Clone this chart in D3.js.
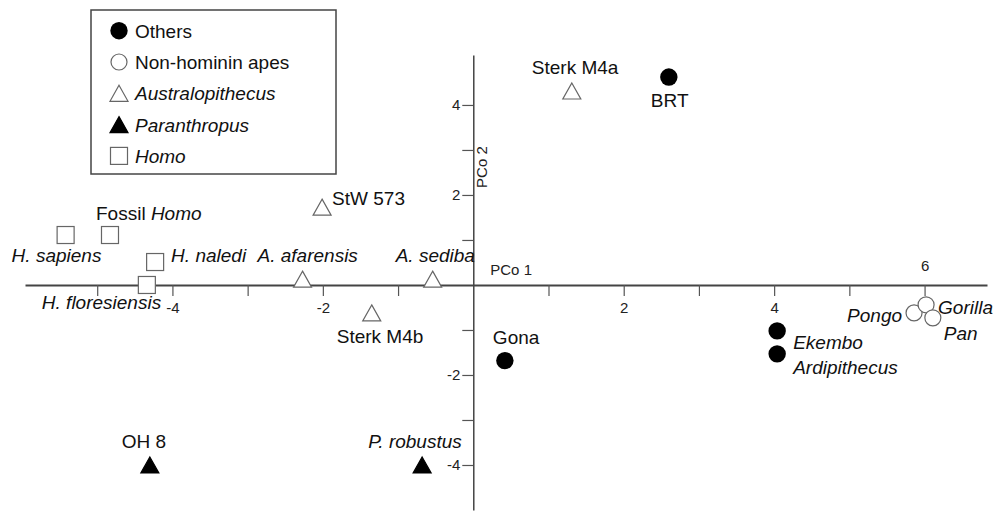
<!DOCTYPE html>
<html>
<head>
<meta charset="utf-8">
<script src="https://cdn.jsdelivr.net/npm/d3@7"></script>
<style>
  body { margin: 0; background: #fff; }
  svg { display: block; font-family: "Liberation Sans", Arial, sans-serif; }
</style>
</head>
<body>
<div id="chart"></div>
<script>
// specimens and their group
const names = ['H. sapiens', 'Fossil Homo', 'H. naledi', 'H. floresiensis', 'StW 573', 'A. afarensis',
  'A. sediba', 'Sterk M4b', 'Sterk M4a', 'BRT', 'Gona', 'Ekembo', 'Ardipithecus',
  'Pongo', 'Gorilla', 'Pan', 'OH 8', 'P. robustus'];
const groups = ['Homo', 'Homo', 'Homo', 'Homo', 'Australopithecus', 'Australopithecus',
  'Australopithecus', 'Australopithecus', 'Australopithecus', 'Others', 'Others', 'Others', 'Others',
  'Apes', 'Apes', 'Apes', 'Paranthropus', 'Paranthropus'];
const pco1 = [-5.42, -4.83, -4.23, -4.34, -2.01, -2.27, -0.54, -1.35, 1.31, 2.60, 0.42, 4.04, 4.04,
  5.86, 6.02, 6.11, -4.30, -0.68];
const pco2 = [1.11, 1.11, 0.51, 0.0, 1.73, 0.13, 0.13, -0.62, 4.31, 4.62, -1.68, -1.02, -1.53,
  -0.62, -0.44, -0.73, -4.0, -4.0];

// legend
const legendKeys = ['Others', 'Apes', 'Australopithecus', 'Paranthropus', 'Homo'];
const legendLabels = ['Others', 'Non-hominin apes', 'Australopithecus', 'Paranthropus', 'Homo'];
const legendItalic = [false, false, true, true, true];

// ticks
const xTicks = [-5, -4, -3, -2, -1, 1, 2, 3, 4, 5, 6];
const xTickLabels = [-4, -2, 2, 4, 6];
const yTicks = [-4, -3, -2, -1, 1, 2, 3, 4];
const yTickLabels = [-4, -2, 2, 4];

// label placement (pixel offsets from the marker)
const labelPos = {
  'H. sapiens': [-54, 27, 'start'], 'Fossil Homo': [-14, -15, 'start'], 'H. naledi': [16, 0, 'start'],
  'H. floresiensis': [-105, 24, 'start'], 'StW 573': [10, -2, 'start'], 'A. afarensis': [-45, -17, 'start'],
  'A. sediba': [-37, -17, 'start'], 'Sterk M4b': [-35, 30, 'start'], 'Sterk M4a': [-40, -17, 'start'],
  'BRT': [-18, 30, 'start'], 'Gona': [-12, -17, 'start'], 'Ekembo': [16, 18, 'start'],
  'Ardipithecus': [16, 20, 'start'], 'Pongo': [-12, 9, 'end'], 'Gorilla': [12, 9, 'start'],
  'Pan': [11, 22, 'start'], 'OH 8': [-28, -17, 'start'], 'P. robustus': [-54, -17, 'start']
};
const italicNames = ['H. sapiens', 'H. naledi', 'H. floresiensis', 'A. afarensis', 'A. sediba',
  'Ekembo', 'Ardipithecus', 'Pongo', 'Gorilla', 'Pan', 'P. robustus'];

const width = 995, height = 512;
const svg = d3.select('#chart').append('svg')
  .attr('width', width).attr('height', height);

const x = d3.scaleLinear().domain([-5.96, 6.83]).range([25, 987]);
const y = d3.scaleLinear().domain([-5.0, 5.11]).range([510, 55]);

const axisColor = '#444';

// x axis
const xAxis = svg.append('g')
  .attr('transform', `translate(0,${y(0)})`)
  .call(d3.axisBottom(x).tickValues(xTicks).tickSize(11).tickSizeOuter(0)
    .tickFormat(d => xTickLabels.includes(d) ? d : ''))
  .attr('font-family', null).attr('font-size', null);
xAxis.select('.domain').attr('stroke', axisColor).attr('stroke-width', 2);
xAxis.selectAll('.tick line').attr('stroke', '#555').attr('stroke-width', 1.2);
xAxis.selectAll('.tick text').attr('fill', '#222').style('font-size', '15px').attr('y', 17);
xAxis.selectAll('.tick').filter(d => d === 6).select('text').attr('y', -25);

// y axis
const yAxis = svg.append('g')
  .attr('transform', `translate(${x(0)},0)`)
  .call(d3.axisLeft(y).tickValues(yTicks).tickSize(11).tickSizeOuter(0)
    .tickFormat(d => yTickLabels.includes(d) ? d : ''))
  .attr('font-family', null).attr('font-size', null);
yAxis.select('.domain').attr('stroke', axisColor).attr('stroke-width', 1.5);
yAxis.selectAll('.tick line').attr('stroke', '#555').attr('stroke-width', 1.2);
yAxis.selectAll('.tick text').attr('fill', '#222').style('font-size', '15px').attr('x', -13);

// axis titles
svg.append('text')
  .attr('x', x(0) + 17).attr('y', y(0) - 10)
  .style('font-size', '15px').attr('fill', '#222')
  .text('PCo 1');
svg.append('text')
  .attr('transform', `translate(${x(0) + 14},${y(2.62)}) rotate(-90)`)
  .attr('text-anchor', 'middle')
  .style('font-size', '15px').attr('fill', '#222')
  .text('PCo 2');

// marker drawing
function drawMarker(g, key) {
  if (key === 'Others') {
    g.append('circle').attr('r', 8.7).attr('fill', '#000');
  } else if (key === 'Apes') {
    g.append('circle').attr('r', 8).attr('fill', '#fff').attr('stroke', '#666').attr('stroke-width', 1.2);
  } else if (key === 'Australopithecus' || key === 'Paranthropus') {
    const w = 18, h = 16;
    g.append('path')
      .attr('d', `M0,${-h / 2}L${w / 2},${h / 2}L${-w / 2},${h / 2}Z`)
      .attr('fill', key === 'Paranthropus' ? '#000' : '#fff')
      .attr('stroke', key === 'Paranthropus' ? '#000' : '#666')
      .attr('stroke-width', 1.2);
  } else {
    g.append('rect').attr('x', -8.5).attr('y', -8.5).attr('width', 17).attr('height', 17)
      .attr('fill', '#fff').attr('stroke', '#666').attr('stroke-width', 1.2);
  }
}

const points = names.map((n, i) => ({ name: n, group: groups[i], px: pco1[i], py: pco2[i] }));

// points
const pts = svg.append('g').selectAll('g')
  .data(points)
  .enter()
  .append('g')
  .attr('transform', d => `translate(${x(d.px)},${y(d.py)})`);
pts.each(function(d) { drawMarker(d3.select(this), d.group); });

// labels
const labels = svg.append('g').selectAll('text')
  .data(points)
  .enter()
  .append('text')
  .attr('x', d => x(d.px) + labelPos[d.name][0])
  .attr('y', d => y(d.py) + labelPos[d.name][1])
  .attr('text-anchor', d => labelPos[d.name][2])
  .style('font-size', '19px')
  .attr('fill', '#111')
  .style('font-style', d => italicNames.includes(d.name) ? 'italic' : 'normal');
labels.each(function(d) {
  const t = d3.select(this);
  if (d.name === 'Fossil Homo') {
    t.append('tspan').text('Fossil ');
    t.append('tspan').style('font-style', 'italic').text('Homo');
  } else {
    t.text(d.name);
  }
});

// legend
const legend = svg.append('g');
legend.append('rect')
  .attr('x', 91).attr('y', 10).attr('width', 245).attr('height', 164)
  .attr('fill', '#fff').attr('stroke', '#444').attr('stroke-width', 1.5);
const rows = legend.selectAll('g.row')
  .data(legendKeys)
  .enter()
  .append('g')
  .attr('class', 'row')
  .attr('transform', (d, i) => `translate(119,${30.7 + i * 31.3})`);
rows.each(function(d) { drawMarker(d3.select(this), d); });
rows.append('text')
  .attr('x', 16).attr('y', 7)
  .style('font-size', '19px')
  .attr('fill', '#111')
  .style('font-style', (d, i) => legendItalic[i] ? 'italic' : 'normal')
  .text((d, i) => legendLabels[i]);
</script>
</body>
</html>
